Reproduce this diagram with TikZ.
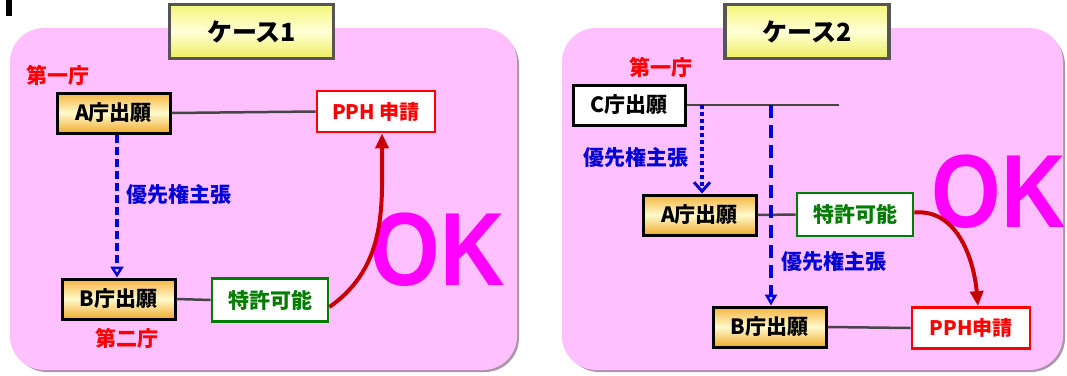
\documentclass[tikz,border=0pt]{standalone}
\usepackage{fontspec}
\newfontfamily\jp{Noto Sans CJK JP}
\newfontfamily\oksans{Liberation Sans}
\usetikzlibrary{arrows.meta}
\definecolor{panelpink}{RGB}{255,192,255}
\definecolor{panelshadow}{RGB}{170,150,170}
\definecolor{ttlborder}{RGB}{85,85,85}
\definecolor{ttltop}{RGB}{245,245,120}
\definecolor{ttlmid}{RGB}{255,255,215}
\definecolor{ttlbot}{RGB}{238,238,95}
\definecolor{orgtop}{RGB}{245,180,60}
\definecolor{orgmid}{RGB}{255,250,205}
\definecolor{orgbot}{RGB}{240,170,45}
\definecolor{lnk}{RGB}{70,70,70}
\definecolor{pblue}{RGB}{0,0,215}
\definecolor{pred}{RGB}{255,0,0}
\definecolor{dred}{RGB}{200,0,0}
\definecolor{pgreen}{RGB}{0,125,0}
\definecolor{okmag}{RGB}{255,0,255}
\tikzset{
  panel/.style={fill=panelpink, draw=none, rounded corners=34pt},
  pshadow/.style={fill=panelshadow, draw=none, rounded corners=34pt},
  ttl/.style={draw=ttlborder, line width=3.2pt, top color=ttltop, bottom color=ttlbot, middle color=ttlmid,
    minimum width=164pt, minimum height=54pt, inner sep=0pt, font=\jp\bfseries\fontsize{25}{25}\selectfont},
  obox/.style={draw=black, line width=3pt, top color=orgtop, bottom color=orgbot, middle color=orgmid,
    minimum width=113pt, minimum height=40pt, inner sep=0pt, font=\jp\bfseries\fontsize{21}{21}\selectfont},
  wbox/.style={draw=black, line width=3pt, fill=white,
    minimum width=112pt, minimum height=40pt, inner sep=0pt, font=\jp\bfseries\fontsize{21}{21}\selectfont},
  rbox/.style={draw=pred, line width=2.8pt, fill=white, text=pred,
    minimum width=118pt, minimum height=41pt, inner sep=0pt, font=\jp\bfseries\fontsize{20}{20}\selectfont},
  gbox/.style={draw=pgreen, line width=2.8pt, fill=white, text=pgreen,
    minimum width=116pt, minimum height=43pt, inner sep=0pt, font=\jp\bfseries\fontsize{21}{21}\selectfont},
  redlbl/.style={text=pred, inner sep=0pt, font=\jp\bfseries\fontsize{21}{21}\selectfont},
  bluelbl/.style={text=pblue, inner sep=0pt, font=\jp\bfseries\fontsize{21}{21}\selectfont},
  link/.style={draw=lnk, line width=2.5pt},
  prio/.style={draw=pblue, line width=4pt, dash pattern=on 8pt off 4pt, -{Triangle[open, length=11pt, width=13pt, line width=2.5pt]}},
  priodot/.style={draw=pblue, line width=3.5pt, dash pattern=on 4pt off 3pt, -{Straight Barb[length=9pt, width=16pt, line width=3pt]}},
  priolong/.style={draw=pblue, line width=3.2pt, dash pattern=on 13pt off 7pt, -{Triangle[open, length=11pt, width=12pt, line width=2.5pt]}},
  okarrow/.style={draw=dred, line width=4pt, -{Triangle[length=15pt, width=13pt]}},
  oktxt/.style={text=okmag, inner sep=0pt, font=\oksans\bfseries\fontsize{104}{104}\selectfont}
}
\begin{document}
\begin{tikzpicture}[x=1pt, y=-1pt]
\useasboundingbox (0,0) rectangle (1067,375);
\fill[white] (0,0) rectangle (1067,375);
% small mark at top-left
\fill[black] (6,0) rectangle (12,16);

% ===== panel 1 =====
\path[pshadow] (13,31) rectangle (519,372);
\path[panel] (10,28) rectangle (517,370);
\node[ttl] (t1) at (251.5,31.5) {ケース1};
\node[redlbl] (d1) at (58,75) {第一庁};
\node[obox] (a1) at (113.5,113) {A庁出願};
\node[rbox] (pph1) at (376,111.5) {PPH 申請};
\node[bluelbl] (prio1) at (179,195) {優先権主張};
\node[obox] (b1) at (118.5,299) {B庁出願};
\node[gbox] (tok1) at (270,300) {特許可能};
\node[redlbl] (d2) at (127,338) {第二庁};
\node[oktxt] (ok1) at (438,250) {\scalebox{0.86}[1]{OK}};
\draw[link] (a1.east) -- (pph1.west);
\draw[link] (b1.east) -- (tok1.west);
\draw[prio] ([xshift=3.5pt]a1.south) -- ([xshift=-1.5pt]b1.north);
\draw[okarrow] ([yshift=-7pt]tok1.east) to[out=35, in=-90] ([xshift=6pt]pph1.south);

% ===== panel 2 =====
\path[pshadow] (565,31) rectangle (1065,372);
\path[panel] (562,28) rectangle (1063,370);
\node[ttl] (t2) at (807,31.5) {ケース2};
\node[redlbl] (d3) at (661,67) {第一庁};
\node[wbox] (c2) at (629,105) {C庁出願};
\coordinate (cend) at (839,105);
\coordinate (cp1) at (702,105);
\coordinate (cp2) at (771,105);
\node[bluelbl] (prio2) at (636,158) {優先権主張};
\node[obox] (a2) at (699.5,215) {A庁出願};
\node[gbox] (tok2) at (855,214.5) {特許可能};
\node[bluelbl] (prio3) at (834,262) {優先権主張};
\node[obox] (b2) at (769.5,327) {B庁出願};
\node[rbox] (pph2) at (971,328) {PPH申請};
\node[oktxt] (ok2) at (999,192) {\scalebox{0.86}[1]{OK}};
\draw[link] (c2.east) -- (cend);
\draw[link] (a2.east) -- (tok2.west);
\draw[link] (b2.east) -- (pph2.west);
\draw[priodot] (cp1) -- (cp1 |- a2.north);
\draw[priolong] (cp2) -- (cp2 |- b2.north);
\draw[okarrow] ([yshift=2pt]tok2.east) to[out=5, in=95] ([xshift=7pt]pph2.north);
\end{tikzpicture}
\end{document}
